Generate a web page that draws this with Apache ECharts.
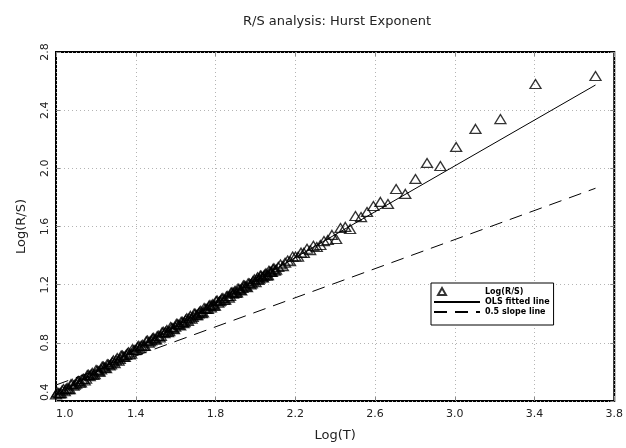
<!DOCTYPE html>
<html>
<head>
<meta charset="utf-8">
<script src="https://cdn.jsdelivr.net/npm/echarts@6/dist/echarts.min.js"></script>
<style>
  html, body { margin: 0; padding: 0; background: #fff; }
  #chart { width: 626px; height: 448px; }
</style>
</head>
<body>
<div id="chart"></div>
<script>
// Rescaled-range estimates: log10 of window length T and log10 of mean R/S
const logT = [
  3.706, 3.405, 3.229, 3.104, 3.007, 2.928, 2.861, 2.803, 2.752, 2.706,
  2.665, 2.627, 2.592, 2.560, 2.530, 2.502, 2.475, 2.451, 2.427, 2.405,
  2.384, 2.363, 2.344, 2.326, 2.308,
  2.291, 2.275, 2.259, 2.243, 2.229, 2.214, 2.201, 2.187, 2.174, 2.162,
  2.149, 2.138, 2.126, 2.115, 2.104,
  2.098, 2.093, 2.088, 2.083, 2.078, 2.073, 2.068, 2.063, 2.058, 2.053,
  2.048, 2.043, 2.038, 2.034, 2.029, 2.025, 2.020, 2.016, 2.011, 2.007,
  2.001, 1.995, 1.988, 1.982, 1.976, 1.970, 1.964, 1.958, 1.952, 1.946,
  1.940, 1.935, 1.929, 1.924, 1.918, 1.913, 1.908, 1.903, 1.898, 1.893,
  1.888, 1.883, 1.878, 1.873, 1.867, 1.861, 1.855, 1.849, 1.843, 1.837,
  1.831, 1.825, 1.820, 1.814, 1.808, 1.803, 1.797, 1.792, 1.787, 1.782,
  1.777, 1.772, 1.767, 1.762, 1.755, 1.749, 1.743, 1.737, 1.731, 1.726,
  1.720, 1.715, 1.709, 1.704, 1.698, 1.693, 1.686, 1.680, 1.674, 1.668,
  1.662, 1.656, 1.650, 1.645, 1.639, 1.634, 1.628, 1.623, 1.616, 1.610,
  1.604, 1.598, 1.592, 1.587, 1.581, 1.575, 1.568, 1.562, 1.556, 1.550,
  1.544, 1.538, 1.532, 1.526, 1.520, 1.514, 1.508, 1.502, 1.496, 1.490,
  1.484, 1.478, 1.471, 1.465, 1.459, 1.453, 1.446, 1.440, 1.433, 1.427,
  1.421, 1.415, 1.409, 1.403, 1.396, 1.390, 1.383, 1.377, 1.370, 1.364,
  1.358, 1.352, 1.345, 1.339, 1.333, 1.327, 1.320, 1.314, 1.307, 1.301,
  1.294, 1.288, 1.282, 1.276, 1.269, 1.263, 1.257, 1.251, 1.244, 1.238,
  1.232, 1.226, 1.219, 1.213, 1.207, 1.201, 1.194, 1.188, 1.182, 1.176,
  1.169, 1.163, 1.157, 1.151, 1.144, 1.138, 1.131, 1.125, 1.119, 1.113,
  1.107, 1.101, 1.094, 1.088, 1.081, 1.075, 1.069, 1.063, 1.056, 1.050,
  1.044, 1.038, 1.031, 1.025, 1.019, 1.013, 1.006, 1.000
];
const logRS = [
  2.635, 2.580, 2.339, 2.271, 2.147, 2.016, 2.037, 1.927, 1.824, 1.858,
  1.755, 1.769, 1.741, 1.700, 1.665, 1.672, 1.583, 1.597, 1.590, 1.514,
  1.542, 1.507, 1.500, 1.473, 1.459,
  1.467, 1.437, 1.447, 1.419, 1.420, 1.392, 1.394, 1.393, 1.361, 1.366,
  1.351, 1.327, 1.339, 1.322, 1.304,
  1.297, 1.313, 1.307, 1.287, 1.287, 1.290, 1.296, 1.266, 1.262, 1.278,
  1.272, 1.262, 1.250, 1.251, 1.261, 1.263, 1.242, 1.232, 1.251, 1.237,
  1.217, 1.236, 1.225, 1.208, 1.201, 1.208, 1.210, 1.183, 1.188, 1.193,
  1.195, 1.177, 1.160, 1.164, 1.169, 1.174, 1.147, 1.143, 1.158, 1.147,
  1.138, 1.148, 1.146, 1.122, 1.111, 1.122, 1.120, 1.097, 1.096, 1.108,
  1.105, 1.090, 1.084, 1.077, 1.091, 1.088, 1.056, 1.055, 1.066, 1.059,
  1.044, 1.060, 1.054, 1.034, 1.033, 1.034, 1.039, 1.009, 1.004, 1.020,
  1.013, 1.003, 0.991, 0.991, 1.000, 1.001, 0.979, 0.967, 0.985, 0.969,
  0.950, 0.969, 0.958, 0.942, 0.936, 0.944, 0.945, 0.919, 0.923, 0.929,
  0.930, 0.911, 0.894, 0.899, 0.904, 0.908, 0.880, 0.874, 0.888, 0.876,
  0.867, 0.876, 0.873, 0.848, 0.838, 0.849, 0.846, 0.824, 0.823, 0.834,
  0.831, 0.817, 0.809, 0.802, 0.816, 0.812, 0.779, 0.778, 0.787, 0.779,
  0.764, 0.779, 0.772, 0.752, 0.750, 0.751, 0.756, 0.725, 0.720, 0.735,
  0.728, 0.717, 0.704, 0.703, 0.712, 0.713, 0.690, 0.678, 0.696, 0.680,
  0.660, 0.679, 0.668, 0.651, 0.644, 0.651, 0.653, 0.626, 0.630, 0.636,
  0.637, 0.618, 0.601, 0.604, 0.609, 0.613, 0.585, 0.579, 0.593, 0.582,
  0.571, 0.580, 0.578, 0.553, 0.541, 0.553, 0.549, 0.527, 0.526, 0.537,
  0.534, 0.520, 0.512, 0.505, 0.518, 0.514, 0.482, 0.481, 0.490, 0.482,
  0.467, 0.482, 0.474, 0.454, 0.453, 0.454, 0.459, 0.445
];

// OLS fitted line and reference line of slope 0.5 (end points)
const fitT = [1.0, 3.706];
const fitRS = [0.44, 2.573];
const halfT = [1.0, 3.706];
const halfRS = [0.51, 1.863];

// Axis ranges
const xMin = 1.0, xMax = 3.8, xStep = 0.4;
const yMin = 0.4, yMax = 2.8, yStep = 0.4;

const seriesNames = ['Log(R/S)', 'OLS fitted line', '0.5 slope line'];
const FONT = 'DejaVu Sans';

const pairs = (xs, ys) => xs.map((x, i) => [x, ys[i]]);

const gridLine = { show: true, lineStyle: { color: '#b4b4b4', width: 1, type: [1, 3] } };
const labelStyle = { fontFamily: FONT, fontSize: 11, color: '#222' };
const boxTick = { show: true, inside: true, length: 4, lineStyle: { color: '#888' } };
const noMarker = { color: 'rgba(0,0,0,0)', borderColor: 'rgba(0,0,0,0)', borderWidth: 0 };

const chart = echarts.init(document.getElementById('chart'), null, { renderer: 'canvas' });
chart.setOption({
  animation: false,
  backgroundColor: '#fff',
  title: {
    text: 'R/S analysis: Hurst Exponent',
    left: 332,
    top: 10,
    textAlign: 'center',
    textStyle: { fontFamily: FONT, fontSize: 13, fontWeight: 'normal', color: '#222' }
  },
  grid: {
    left: 56, right: 8, top: 52, bottom: 47,
    show: true, borderColor: '#000', borderWidth: 2, backgroundColor: 'transparent'
  },
  legend: {
    orient: 'vertical',
    left: 431, top: 283,
    padding: [4, 4, 9, 2],
    itemGap: 2,
    itemWidth: 46, itemHeight: 8,
    backgroundColor: '#fff',
    borderColor: '#000', borderWidth: 1, borderRadius: 0,
    textStyle: { fontFamily: FONT, fontSize: 8, fontWeight: 'bold', color: '#000' },
    data: [
      { name: seriesNames[0], icon: 'path://M0,8L0,8M4,8L8,1L12,8ZM46,8L46,8' },
      { name: seriesNames[1], itemStyle: noMarker },
      { name: seriesNames[2], itemStyle: noMarker }
    ]
  },
  xAxis: [{
    type: 'value', min: xMin, max: xMax, interval: xStep,
    name: 'Log(T)', nameLocation: 'middle', nameGap: 28,
    nameTextStyle: { fontFamily: FONT, fontSize: 13, color: '#222' },
    axisLine: { show: false },
    axisTick: boxTick,
    axisLabel: Object.assign({ margin: 8, alignMinLabel: 'left', formatter: v => v.toFixed(1) }, labelStyle),
    splitLine: gridLine
  }, {
    type: 'value', position: 'top', min: xMin, max: xMax, interval: xStep,
    axisLine: { show: false },
    axisTick: boxTick,
    axisLabel: { show: false }, splitLine: { show: false }
  }],
  yAxis: [{
    type: 'value', min: yMin, max: yMax, interval: yStep,
    name: 'Log(R/S)', nameLocation: 'middle', nameGap: 28,
    nameTextStyle: { fontFamily: FONT, fontSize: 13, color: '#222' },
    axisLine: { show: false },
    axisTick: boxTick,
    axisLabel: Object.assign({ margin: 5, rotate: 90, alignMinLabel: 'left', formatter: v => v.toFixed(1) }, labelStyle),
    splitLine: gridLine
  }, {
    type: 'value', position: 'right', min: yMin, max: yMax, interval: yStep,
    axisLine: { show: false },
    axisTick: boxTick,
    axisLabel: { show: false }, splitLine: { show: false }
  }],
  series: [{
    name: seriesNames[0],
    type: 'scatter',
    symbol: 'triangle',
    symbolSize: [11, 9],
    itemStyle: { color: 'rgba(0,0,0,0)', borderColor: '#000', borderWidth: 1.3 },
    data: pairs(logT, logRS),
    z: 3
  }, {
    name: seriesNames[1],
    type: 'line',
    symbol: 'none',
    lineStyle: { color: '#000', width: 1, type: 'solid' },
    itemStyle: { color: '#000' },
    data: pairs(fitT, fitRS),
    z: 2
  }, {
    name: seriesNames[2],
    type: 'line',
    symbol: 'none',
    lineStyle: { color: '#000', width: 1, type: [13, 8] },
    itemStyle: { color: '#000' },
    data: pairs(halfT, halfRS),
    z: 2
  }]
});
</script>
</body>
</html>
